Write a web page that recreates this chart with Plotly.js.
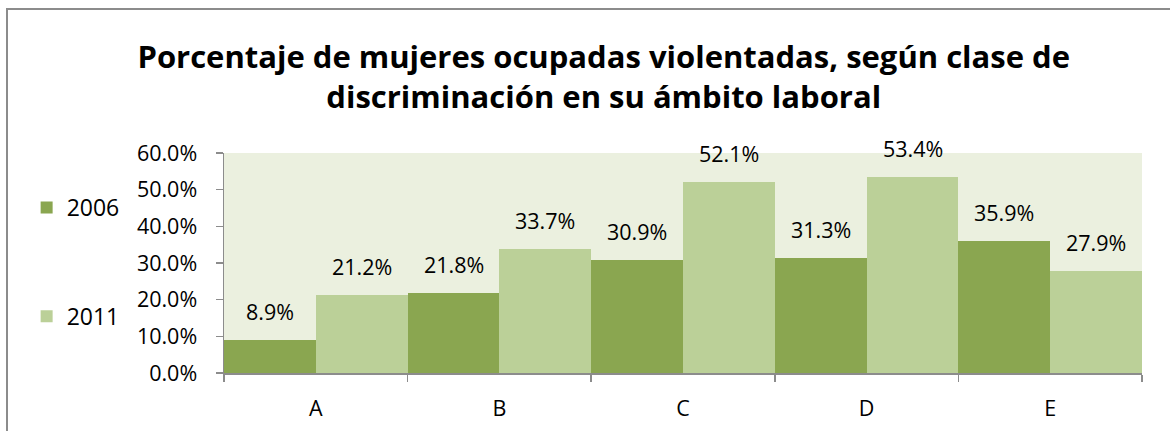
<!DOCTYPE html>
<html><head><meta charset="utf-8">
<script src="https://cdn.plot.ly/plotly-3.0.1.min.js"></script>
<style>
html,body{margin:0;padding:0;background:#fff;}
#wrap{position:relative;width:1170px;height:431px;overflow:hidden;}
#frame{position:absolute;left:6px;top:8px;width:1200px;height:500px;border-left:2px solid #8c8c8c;border-top:2px solid #8c8c8c;box-sizing:border-box;pointer-events:none;}
#chart{position:absolute;left:0;top:0;width:1170px;height:431px;}
</style></head>
<body><div id="wrap"><div id="chart"></div><div id="frame"></div></div>
<script>
const categories = ['A','B','C','D','E'];
const seriesNames = ['2006','2011'];
const values2006 = [8.9, 21.8, 30.9, 31.3, 35.9];
const values2011 = [21.2, 33.7, 52.1, 53.4, 27.9];
const yTicks = [0,10,20,30,40,50,60];
const titleText = 'Porcentaje de mujeres ocupadas violentadas, según clase de<br>discriminación en su ámbito laboral';

const FONT = '"Open Sans", "Noto Sans", sans-serif';
const colors = ['#8AA650','#BBD098'];
const seriesVals = [values2006, values2011];

const traces = seriesVals.map((v,k)=>({
  type:'bar', x:categories, y:v, name:seriesNames[k],
  legendgroup:'g'+k,
  marker:{color:colors[k], line:{width:0}},
  hoverinfo:'none'
}));

const annotations = [];
seriesVals.forEach((v,k)=>{
  v.forEach((val,i)=>{
    annotations.push({
      x: i + (k===0 ? -0.25 : 0.25), y: val, xref:'x', yref:'y',
      text: val.toFixed(1) + '%', showarrow:false,
      yanchor:'bottom', yshift:12,
      font:{family:FONT, size:21.5, color:'#000'}
    });
  });
});

const layout = {
  width:1170, height:431,
  margin:{l:224, r:28, t:153, b:58},
  paper_bgcolor:'rgba(0,0,0,0)', plot_bgcolor:'#EBF0DF',
  barmode:'group', bargap:0, bargroupgap:0,
  title:{text:titleText, x:0.516, xref:'container', xanchor:'center',
         y:0.842, yref:'container', yanchor:'middle',
         font:{family:FONT, size:31, color:'#000', weight:'bold'}},
  xaxis:{type:'category', showgrid:false, showline:true, linecolor:'#8c8c8c', linewidth:1.5,
         ticks:'outside', tickson:'boundaries', ticklen:7, tickcolor:'#8c8c8c', tickwidth:1.5,
         ticklabelstandoff:16,
         tickfont:{family:FONT, size:21.5, color:'#000'}, fixedrange:true},
  yaxis:{range:[0,60], tickvals:yTicks, ticktext:yTicks.map(t=>t.toFixed(1)+'%'),
         showgrid:false, zeroline:false, showline:true, linecolor:'#8c8c8c', linewidth:1.5,
         ticks:'outside', ticklen:7, tickcolor:'#8c8c8c', tickwidth:1.5,
         ticklabelstandoff:14,
         tickfont:{family:FONT, size:21.5, color:'#000'}, fixedrange:true},
  showlegend:true,
  legend:{x:-0.215, xanchor:'left', y:0.85, yanchor:'top', traceorder:'grouped',
          tracegroupgap:76, bgcolor:'rgba(0,0,0,0)',
          font:{family:FONT, size:23, color:'#000'}, itemwidth:30},
  annotations: annotations
};

Plotly.newPlot('chart', traces, layout, {displayModeBar:false, staticPlot:true});
</script></body></html>
